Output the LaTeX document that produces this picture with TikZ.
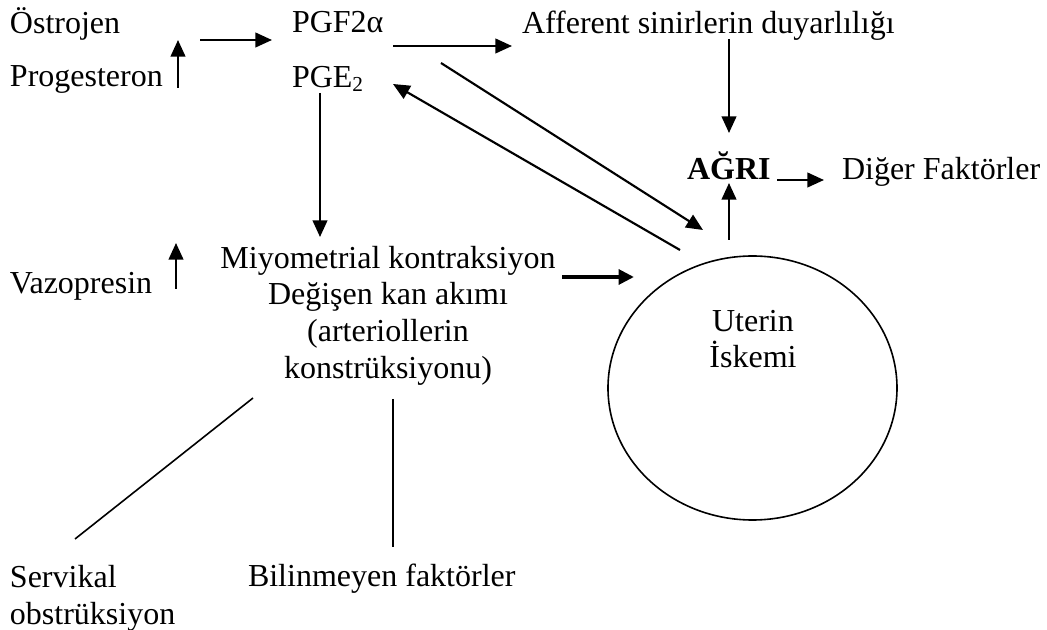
\documentclass[tikz,border=0pt]{standalone}
\usepackage{fontspec}
\setmainfont{Liberation Serif}
\usetikzlibrary{arrows.meta,shapes.geometric}

\begin{document}
\begin{tikzpicture}[x=0.75pt,y=-0.75pt,
  txt/.style={inner sep=0pt,outer sep=0pt,font=\fontsize{24pt}{27.6pt}\selectfont},
  arr/.style={line width=1.6pt,-{Triangle[length=12.5pt,width=11pt]}},
  thickarr/.style={line width=3.2pt,-{Triangle[length=11.5pt,width=11pt]}},
  plain/.style={line width=1.2pt}]
\useasboundingbox (0,0) rectangle (1047,630);

% text nodes
\node[txt,anchor=base west] (ostro)  at (10,34)  {Östrojen};
\node[txt,anchor=base west] (proges) at (10,87)  {Progesteron};
\node[txt,anchor=base west] (pgf)    at (292,33) {PGF2α};
\node[txt,anchor=base west] (pge)    at (292,88) {PGE\raisebox{-0.12em}{\fontsize{16pt}{16pt}\selectfont 2}};
\node[txt,anchor=base west] (aff)    at (522,34) {Afferent sinirlerin duyarlılığı};
\node[txt,anchor=base west] (agri)   at (687,180) {\bfseries AĞRI};
\node[txt,anchor=base west] (diger)  at (842,180) {Diğer Faktörler};
\node[txt,anchor=base west] (vazo)   at (10,294) {Vazopresin};
\node[txt,anchor=north,align=center] (miyo) at (388,246)
  {Miyometrial kontraksiyon\\Değişen kan akımı\\(arteriollerin\\konstrüksiyonu)};
\node[draw,ellipse,line width=1.2pt,inner sep=0pt,
      minimum width=216.75pt,minimum height=198pt] (uter) at (752.5,388) {};
\node[txt,anchor=north,align=center] (uterlbl) at (753,310) {Uterin\\İskemi};
\node[txt,anchor=north west,align=left] (servik) at (10,565) {Servikal\\obstrüksiyon};
\node[txt,anchor=base west] (bilin)  at (248,587) {Bilinmeyen faktörler};

% connector end points
\coordinate (hormUpA) at (178,88);  \coordinate (hormUpB) at (178,40);
\coordinate (hormToA) at (200,40);  \coordinate (hormToB) at (272,40);
\coordinate (pgfAffA) at (393,46);  \coordinate (pgfAffB) at (512,46);
\coordinate (affAgA)  at (729,39);  \coordinate (affAgB)  at (729,133);
\coordinate (pgfIsA)  at (441,63);  \coordinate (pgfIsB)  at (703,230);
\coordinate (isPgeA)  at (680,250); \coordinate (isPgeB)  at (393,84);
\coordinate (pgeMyA)  at (320,93);  \coordinate (pgeMyB)  at (320,237);
\coordinate (vazUpA)  at (176,289); \coordinate (vazUpB)  at (176,243);
\coordinate (myIsA)   at (562,277); \coordinate (myIsB)   at (634,277);
\coordinate (isAgA)   at (729,240); \coordinate (isAgB)   at (729,183);
\coordinate (agDgA)   at (777,180); \coordinate (agDgB)   at (824,180);
\coordinate (myServA) at (253,398); \coordinate (myServB) at (75,539);
\coordinate (myBilA)  at (393,399); \coordinate (myBilB)  at (393,547);

% arrows
\draw[arr] (hormUpA) -- (hormUpB);
\draw[arr] (hormToA) -- (hormToB);
\draw[arr] (pgfAffA) -- (pgfAffB);
\draw[arr] (affAgA) -- (affAgB);
\draw[arr] (pgfIsA) -- (pgfIsB);
\draw[arr] (isPgeA) -- (isPgeB);
\draw[arr] (pgeMyA) -- (pgeMyB);
\draw[arr] (vazUpA) -- (vazUpB);
\draw[thickarr] (myIsA) -- (myIsB);
\draw[arr] (isAgA) -- (isAgB);
\draw[arr] (agDgA) -- (agDgB);

% plain links to the bottom factors
\draw[plain] (myServA) -- (myServB);
\draw[plain] (myBilA) -- (myBilB);
\end{tikzpicture}
\end{document}
